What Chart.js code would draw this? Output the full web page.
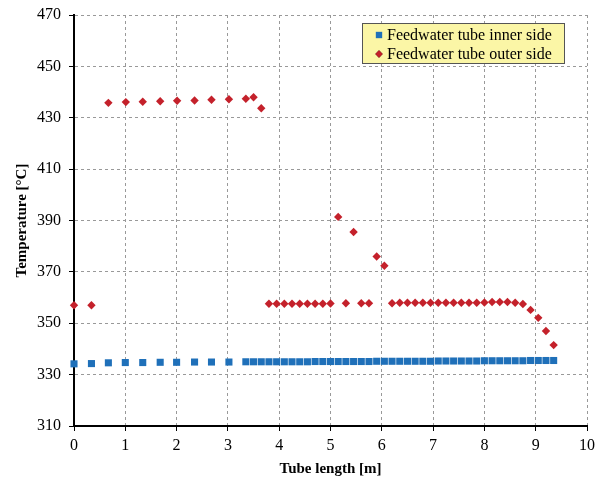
<!DOCTYPE html>
<html>
<head>
<meta charset="utf-8">
<script src="https://cdn.jsdelivr.net/npm/chart.js@4"></script>
<style>
  html, body { margin: 0; padding: 0; background: #fff; }
  #wrap { width: 603px; height: 483px; }
</style>
</head>
<body>
<div id="wrap"><canvas id="chart" width="603" height="483"></canvas></div>
<script>
// Data
const innerX = [0, 0.34, 0.67, 1.0, 1.34, 1.68, 2.0, 2.35, 2.68, 3.02,
    3.35, 3.5, 3.65, 3.8, 3.95, 4.1, 4.25, 4.4, 4.55, 4.7, 4.85, 5.0,
    5.15, 5.3, 5.45, 5.6, 5.75, 5.9, 6.05, 6.2, 6.35, 6.5, 6.65, 6.8,
    6.95, 7.1, 7.25, 7.4, 7.55, 7.7, 7.85, 8.0, 8.15, 8.3, 8.45, 8.6,
    8.75, 8.9, 9.05, 9.2, 9.35];
const innerTemp = [334.2, 334.3, 334.6, 334.7, 334.7, 334.8, 334.8, 334.9, 334.9, 334.9,
    335.0, 335.0, 335.0, 335.0, 335.0, 335.0, 335.0, 335.0, 335.0, 335.1, 335.1, 335.1,
    335.1, 335.1, 335.1, 335.1, 335.1, 335.2, 335.2, 335.2, 335.2, 335.2, 335.2, 335.2,
    335.2, 335.3, 335.3, 335.3, 335.3, 335.3, 335.3, 335.4, 335.4, 335.4, 335.4, 335.4,
    335.4, 335.5, 335.5, 335.5, 335.5];

const outerX = [0, 0.34,
    0.67, 1.01, 1.34, 1.68, 2.01, 2.35, 2.68, 3.02, 3.35, 3.5, 3.65,
    3.8, 3.95, 4.1, 4.25, 4.4, 4.55, 4.7, 4.85, 5.0,
    5.15, 5.3, 5.45, 5.6, 5.75, 5.9, 6.05,
    6.2, 6.35, 6.5, 6.65, 6.8, 6.95, 7.1, 7.25, 7.4, 7.55, 7.7, 7.85, 8.0,
    8.15, 8.3, 8.45, 8.6, 8.75, 8.9, 9.05, 9.2, 9.35];
const outerTemp = [357.0, 357.0,
    435.8, 436.1, 436.2, 436.4, 436.6, 436.7, 437.0, 437.2, 437.4, 438.0, 433.7,
    357.6, 357.6, 357.6, 357.6, 357.6, 357.6, 357.6, 357.6, 357.7,
    391.4, 357.8, 385.5, 357.8, 357.8, 376.0, 372.4,
    357.8, 358.0, 358.0, 358.0, 358.0, 358.0, 358.0, 358.0, 358.0, 358.0, 358.0, 358.0, 358.1,
    358.3, 358.3, 358.3, 358.0, 357.5, 355.2, 352.1, 347.0, 341.5];

const seriesNames = ['Feedwater tube inner side', 'Feedwater tube outer side'];

function toPoints(xs, ys) {
    return xs.map((x, i) => ({ x: x, y: ys[i] }));
}

const serif = "'Liberation Serif', 'DejaVu Serif', serif";

// Legend drawn as a yellow box inside the plot area
const boxLegend = {
    id: 'boxLegend',
    afterDraw(chart) {
        const ctx = chart.ctx;
        const left = 362, top = 23, w = 202, h = 40;
        ctx.save();
        ctx.fillStyle = '#fbf6a6';
        ctx.fillRect(left, top, w, h);
        ctx.strokeStyle = '#555';
        ctx.lineWidth = 1;
        ctx.strokeRect(left + 0.5, top + 0.5, w, h);
        ctx.font = '16px ' + serif;
        ctx.textBaseline = 'middle';
        chart.data.datasets.forEach((ds, i) => {
            const cy = top + 12 + i * 19;
            ctx.save();
            Chart.helpers.drawPoint(ctx, {
                pointStyle: ds.pointStyle,
                radius: ds.pointRadius - 0.5,
                borderWidth: 0
            }, left + 17, cy);
            ctx.fillStyle = ds.backgroundColor;
            ctx.fill();
            ctx.restore();
            ctx.fillStyle = '#000';
            ctx.fillText(ds.label, left + 25, cy + 1);
        });
        ctx.restore();
    }
};

new Chart(document.getElementById('chart'), {
    type: 'scatter',
    data: {
        datasets: [
            {
                label: seriesNames[0],
                data: toPoints(innerX, innerTemp),
                pointStyle: 'rect',
                pointRadius: 5,
                backgroundColor: '#1f70b9',
                borderWidth: 0,
                clip: false
            },
            {
                label: seriesNames[1],
                data: toPoints(outerX, outerTemp),
                pointStyle: 'rectRot',
                pointRadius: 4.2,
                backgroundColor: '#c4212b',
                borderWidth: 0,
                clip: false
            }
        ]
    },
    options: {
        responsive: false,
        animation: false,
        layout: { padding: { top: 15, right: 16, bottom: 0, left: 0 } },
        plugins: {
            legend: { display: false },
            tooltip: { enabled: false }
        },
        scales: {
            x: {
                type: 'linear',
                min: 0,
                max: 10,
                ticks: {
                    stepSize: 1,
                    color: '#000',
                    padding: 5,
                    font: { family: serif, size: 16 }
                },
                grid: {
                    color: '#999',
                    lineWidth: 1,
                    tickColor: '#000',
                    tickLength: 5,
                    tickBorderDash: []
                },
                border: { color: '#000', width: 2, dash: [3, 3] },
                title: {
                    display: true,
                    text: 'Tube length [m]',
                    color: '#000',
                    font: { family: serif, size: 15, weight: 'bold' },
                    padding: { top: 4, bottom: 5 }
                },
                afterFit(scale) { scale.height = 57; }
            },
            y: {
                min: 310,
                max: 470,
                ticks: {
                    stepSize: 20,
                    color: '#000',
                    padding: 8,
                    font: { family: serif, size: 16 }
                },
                grid: {
                    color: '#999',
                    lineWidth: 1,
                    tickColor: '#000',
                    tickLength: 5,
                    tickBorderDash: []
                },
                border: { color: '#000', width: 2, dash: [3, 3] },
                title: {
                    display: true,
                    text: 'Temperature [°C]',
                    color: '#000',
                    font: { family: serif, size: 15, weight: 'bold' },
                    padding: { top: 13, bottom: 0 }
                },
                afterFit(scale) {
                    scale.width = 74;
                    scale.paddingTop = 0;
                }
            }
        }
    },
    plugins: [boxLegend]
});
</script>
</body>
</html>
